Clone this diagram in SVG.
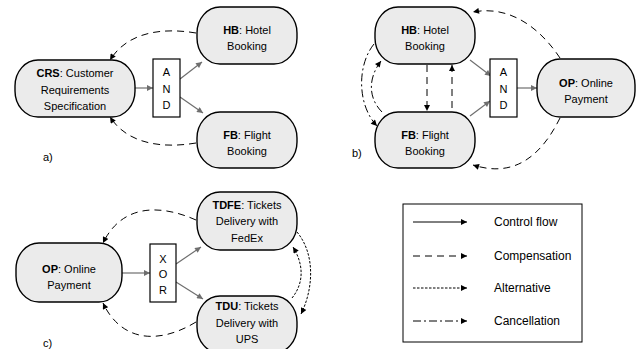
<svg xmlns="http://www.w3.org/2000/svg" width="637" height="349" viewBox="0 0 637 349">
<style>
.node{fill:#ebebeb;stroke:#000;stroke-width:1.4}
.gate{fill:#fff;stroke:#000;stroke-width:1.2}
text{font-family:"Liberation Sans",Arial,sans-serif;font-size:11px;fill:#000}
.c{text-anchor:middle}
.b{font-weight:bold}
.lg{font-size:12px}
.ctl{fill:none;stroke:#6e6e6e;stroke-width:1.2;marker-end:url(#ag)}
.cmp{fill:none;stroke:#000;stroke-width:1;stroke-dasharray:7 5;marker-end:url(#ab)}
.alt{fill:none;stroke:#000;stroke-width:1;stroke-dasharray:2.5 1.5;marker-end:url(#ab)}
.cnl{fill:none;stroke:#000;stroke-width:1;stroke-dasharray:8 3 2 3;marker-end:url(#ab)}
.sol{fill:none;stroke:#000;stroke-width:1;marker-end:url(#ab)}
</style>
<defs>
<marker id="ab" viewBox="0 0 10 10" refX="10" refY="5" markerWidth="8" markerHeight="6" markerUnits="userSpaceOnUse" orient="auto"><path d="M0,0 L10,5 L0,10 z" fill="#000"/></marker>
<marker id="ag" viewBox="0 0 10 10" refX="10" refY="5" markerWidth="8" markerHeight="6" markerUnits="userSpaceOnUse" orient="auto"><path d="M0,0 L10,5 L0,10 z" fill="#6e6e6e"/></marker>
</defs>

<g id="connectors">
<!-- a -->
<path class="ctl" d="M135,88 L153,88"/>
<path class="ctl" d="M180,79 L202,62"/>
<path class="ctl" d="M180,97 L203,113"/>
<path class="cmp" d="M196,33 C160,27 127,33 110,60"/>
<path class="cmp" d="M196,143 C160,149 127,143 110,117"/>
<!-- b -->
<path class="ctl" d="M470,60 L491,76"/>
<path class="ctl" d="M470,116 L490,101"/>
<path class="ctl" d="M517,88 L537,88"/>
<path class="cmp" d="M427,65 L427,111"/>
<path class="cmp" d="M452,108 L452,65"/>
<path class="cnl" d="M374,44 C357,65 357,105 377,126"/>
<path class="cnl" d="M382,112 C368,98 368,78 381,61"/>
<path class="cmp" d="M560,58 C540,28 510,5 473,12"/>
<path class="cmp" d="M560,118 C545,148 520,180 473,165"/>
<!-- c -->
<path class="ctl" d="M122,273 L150,273"/>
<path class="ctl" d="M176,264 L201,247"/>
<path class="ctl" d="M176,282 L203,299"/>
<path class="cmp" d="M196,220 C160,204 122,204 103,243"/>
<path class="cmp" d="M196,322 C160,344 122,343 103,303"/>
<path class="alt" d="M297,232 C316,255 313,290 301,314"/>
<path class="alt" d="M292,298 C305,282 303,263 293,247"/>
</g>

<g id="CRS"><rect class="node" x="15" y="60" width="120" height="57" rx="23" ry="26"/>
<text class="c" x="75" y="77"><tspan class="b">CRS</tspan>: Customer</text>
<text class="c" x="75" y="93.5">Requirements</text>
<text class="c" x="75" y="110">Specification</text></g>

<g id="AND_a"><rect class="gate" x="153" y="59" width="27" height="58"/>
<text class="c" x="166.5" y="76">A</text><text class="c" x="166.5" y="92.5">N</text><text class="c" x="166.5" y="109">D</text></g>

<g id="HB_a"><rect class="node" x="197" y="7" width="100" height="57" rx="23" ry="26"/>
<text class="c" x="247" y="33.5"><tspan class="b">HB</tspan>: Hotel</text>
<text class="c" x="247" y="50">Booking</text></g>

<g id="FB_a"><rect class="node" x="197" y="112" width="100" height="56" rx="23" ry="26"/>
<text class="c" x="247" y="138.5"><tspan class="b">FB</tspan>: Flight</text>
<text class="c" x="247" y="155">Booking</text></g>

<text x="43" y="161">a)</text>

<g id="HB_b"><rect class="node" x="375" y="7" width="100" height="57" rx="23" ry="26"/>
<text class="c" x="425" y="33.5"><tspan class="b">HB</tspan>: Hotel</text>
<text class="c" x="425" y="50">Booking</text></g>

<g id="FB_b"><rect class="node" x="375" y="112" width="100" height="56" rx="23" ry="26"/>
<text class="c" x="425" y="138.5"><tspan class="b">FB</tspan>: Flight</text>
<text class="c" x="425" y="155">Booking</text></g>

<g id="AND_b"><rect class="gate" x="490" y="59" width="27" height="58"/>
<text class="c" x="503.5" y="76">A</text><text class="c" x="503.5" y="92.5">N</text><text class="c" x="503.5" y="109">D</text></g>

<g id="OP_b"><rect class="node" x="537" y="59" width="98" height="58" rx="23" ry="26"/>
<text class="c" x="586" y="87"><tspan class="b">OP</tspan>: Online</text>
<text class="c" x="586" y="103">Payment</text></g>

<text x="352" y="157">b)</text>

<g id="OP_c"><rect class="node" x="16" y="243" width="106" height="59" rx="23" ry="26"/>
<text class="c" x="69" y="272.5"><tspan class="b">OP</tspan>: Online</text>
<text class="c" x="69" y="288.5">Payment</text></g>

<g id="XOR"><rect class="gate" x="150" y="244" width="26" height="58"/>
<text class="c" x="163" y="262.5">X</text><text class="c" x="163" y="278">O</text><text class="c" x="163" y="293.5">R</text></g>

<g id="TDFE"><rect class="node" x="197" y="192" width="100" height="58" rx="23" ry="26"/>
<text class="c" x="247" y="208.5"><tspan class="b">TDFE</tspan>: Tickets</text>
<text class="c" x="247" y="225">Delivery with</text>
<text class="c" x="247" y="241.5">FedEx</text></g>

<g id="TDU"><rect class="node" x="197" y="296" width="100" height="57" rx="23" ry="26"/>
<text class="c" x="247" y="310"><tspan class="b">TDU</tspan>: Tickets</text>
<text class="c" x="247" y="326.5">Delivery with</text>
<text class="c" x="247" y="343">UPS</text></g>

<text x="43" y="347">c)</text>

<g id="legend"><rect x="403" y="204" width="179" height="138" fill="#fff" stroke="#000" stroke-width="1"/>
<path class="sol" d="M413,222 L467,222"/>
<path class="cmp" d="M413,256 L467,256" stroke-dasharray="10 5"/>
<path class="alt" d="M413,288 L467,288"/>
<path class="cnl" d="M413,321 L467,321" stroke-dasharray="10 4 2 4"/>
<text class="lg" x="494" y="226">Control flow</text>
<text class="lg" x="494" y="260">Compensation</text>
<text class="lg" x="494" y="292">Alternative</text>
<text class="lg" x="494" y="325">Cancellation</text></g>
</svg>
